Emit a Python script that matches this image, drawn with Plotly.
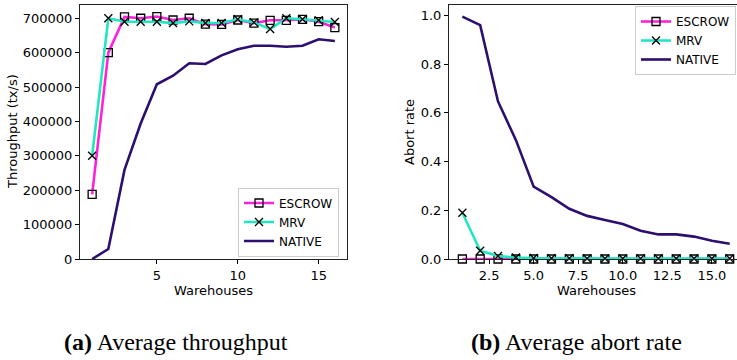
import plotly.graph_objects as go

warehouses = list(range(1, 17))

escrow_tput = [188000, 600000, 704000, 700000, 705000, 695000, 700000, 683000,
               682000, 695000, 686000, 694000, 694000, 697000, 690000, 673000]
mrv_tput = [300000, 700000, 690000, 690000, 690000, 686000, 691000, 686000,
            686000, 697000, 688000, 669000, 700000, 697000, 694000, 689000]
native_tput = [0, 29000, 259000, 394000, 508000, 533000, 569000, 567000,
               592000, 610000, 620000, 620000, 617000, 620000, 639000, 634000]

escrow_abort = [0.0] * 16
mrv_abort = [0.190, 0.034, 0.012, 0.006, 0.004, 0.003, 0.003, 0.002,
             0.002, 0.002, 0.002, 0.002, 0.002, 0.002, 0.002, 0.002]
native_abort = [0.995, 0.960, 0.647, 0.489, 0.297, 0.254, 0.206, 0.177,
                0.160, 0.144, 0.116, 0.101, 0.101, 0.092, 0.075, 0.063]

series_names = ["ESCROW", "MRV", "NATIVE"]
colors = ["#ff22dd", "#22e6c2", "#2c0f6e"]

x_ticks_a = [5, 10, 15]
y_ticks_a = [0, 100000, 200000, 300000, 400000, 500000, 600000, 700000]
x_ticks_b = [2.5, 5.0, 7.5, 10.0, 12.5, 15.0]
y_ticks_b = [0.0, 0.2, 0.4, 0.6, 0.8, 1.0]

W, H = 737, 360
FONT = "DejaVu Sans"

fig = go.Figure()

def add_series(xa, ya, ys, legend):
    for i, (name, vals) in enumerate(zip(series_names, ys)):
        if name == "ESCROW":
            mode = "lines+markers"
            marker = dict(symbol="square-open", color="black", size=8, line=dict(width=1.3, color="black"))
        elif name == "MRV":
            mode = "lines+markers"
            marker = dict(symbol="x-thin-open", color="black", size=8, line=dict(width=1.3, color="black"))
        else:
            mode = "lines"
            marker = None
        tr = go.Scatter(x=warehouses, y=vals, name=name, mode=mode,
                        line=dict(color=colors[i], width=2.6),
                        xaxis=xa, yaxis=ya, legend=legend, cliponaxis=False)
        if marker:
            tr.marker = marker
        fig.add_trace(tr)

add_series("x", "y", [escrow_tput, mrv_tput, native_tput], "legend")
add_series("x2", "y2", [escrow_abort, mrv_abort, native_abort], "legend2")

axis_common = dict(showgrid=False, zeroline=False, ticks="outside", ticklen=4,
                   tickcolor="black", tickwidth=1, linecolor="#222", linewidth=1,
                   showline=True, automargin=False,
                   tickfont=dict(family=FONT, size=13, color="black"))

xa_l, xa_r = 80 / W, 347 / W
xb_l = 449 / W
y_bot, y_top = 1 - 259 / H, 1 - 4.5 / H

fig.update_layout(
    width=W, height=H, margin=dict(l=0, r=0, t=0, b=0, pad=0, autoexpand=False),
    paper_bgcolor="white", plot_bgcolor="white",
    xaxis=dict(domain=[xa_l, xa_r], range=[0.25, 16.75], tickvals=x_ticks_a,
               mirror=True, anchor="y", **axis_common),
    yaxis=dict(domain=[y_bot, y_top], range=[0, 740000], tickvals=y_ticks_a,
               tickformat="d", mirror=True, anchor="x", **axis_common),
    xaxis2=dict(domain=[xb_l, 1.0], range=[0.25, 16.41], tickvals=x_ticks_b,
                tickformat=".1f", mirror=True, anchor="y2", **axis_common),
    yaxis2=dict(domain=[y_bot, y_top], range=[0, 1.045], tickvals=y_ticks_b,
                tickformat=".1f", mirror=False, anchor="x2", **axis_common),
    legend=dict(x=339 / W, y=1 - 222 / H, xanchor="right", yanchor="middle",
                bgcolor="rgba(255,255,255,0.85)", bordercolor="#cccccc", borderwidth=1,
                font=dict(family=FONT, size=12, color="black"), itemwidth=30,
                tracegroupgap=0),
    legend2=dict(x=736 / W, y=1 - 40.5 / H, xanchor="right", yanchor="middle",
                 bgcolor="rgba(255,255,255,0.85)", bordercolor="#cccccc", borderwidth=1,
                 font=dict(family=FONT, size=12, color="black"), itemwidth=30,
                 tracegroupgap=0),
    showlegend=True,
)

label_font = dict(family=FONT, size=13, color="black")
ann = [
    dict(text="Throughput (tx/s)", x=12 / W, y=1 - 132 / H, textangle=-90),
    dict(text="Abort rate", x=409 / W, y=1 - 132 / H, textangle=-90),
    dict(text="Warehouses", x=213.5 / W, y=1 - 290 / H, textangle=0),
    dict(text="Warehouses", x=596 / W, y=1 - 290 / H, textangle=0),
]
for a in ann:
    fig.add_annotation(xref="paper", yref="paper", showarrow=False,
                       xanchor="center", yanchor="middle", font=label_font, **a)

cap_font = dict(family="Liberation Serif", size=24, color="black")
fig.add_annotation(text="<b>(a)</b> Average throughput", x=176 / W, y=1 - 342 / H,
                   xref="paper", yref="paper", showarrow=False, xanchor="center",
                   yanchor="middle", font=cap_font)
fig.add_annotation(text="<b>(b)</b> Average abort rate", x=576 / W, y=1 - 342 / H,
                   xref="paper", yref="paper", showarrow=False, xanchor="center",
                   yanchor="middle", font=cap_font)

fig.write_html("out.html")
